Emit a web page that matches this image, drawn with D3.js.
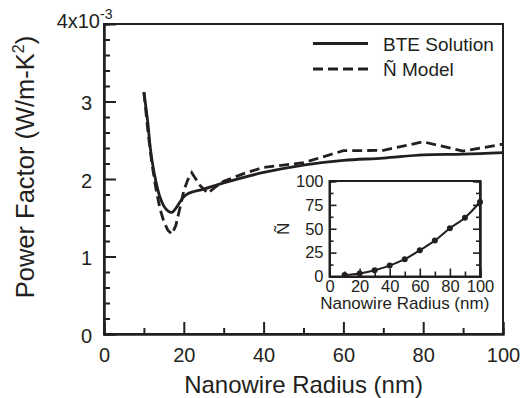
<!DOCTYPE html>
<html>
<head>
<meta charset="utf-8">
<script src="https://cdn.jsdelivr.net/npm/d3@7"></script>
<style>
  body { margin: 0; background: #fff; }
  svg { display: block; font-family: "Liberation Sans", Arial, sans-serif; }
  .axis path, .axis line { stroke: #231f20; }
  .axis text { fill: #231f20; font-family: "Liberation Sans", Arial, sans-serif; }
</style>
</head>
<body>
<div id="chart-area"></div>
<script>
// main plot data (power factor in units of 1e-3 W/m-K^2)
var radiusBTE = [10, 11, 11.5, 12, 13, 14, 15, 16, 17, 18, 19, 20, 21, 22, 25, 30, 40, 50, 60, 70, 80, 90, 100];
var pfBTE = [3.12, 2.72, 2.45, 2.25, 1.97, 1.77, 1.65, 1.59, 1.57, 1.62, 1.70, 1.77, 1.81, 1.83, 1.87, 1.95, 2.085, 2.18, 2.24, 2.27, 2.31, 2.32, 2.34];

var radiusModel = [10, 11, 12, 13, 14, 15, 16, 17, 18, 19, 20, 21, 22, 24, 26, 28, 30, 35, 40, 50, 60, 70, 80, 90, 100];
var pfModel = [3.12, 2.62, 2.2, 1.88, 1.62, 1.45, 1.34, 1.29, 1.4, 1.62, 1.85, 1.99, 2.08, 1.92, 1.815, 1.9, 1.97, 2.07, 2.15, 2.21, 2.365, 2.37, 2.48, 2.36, 2.45];

// inset data
var insetRadius = [10, 20, 30, 40, 50, 60, 70, 80, 90, 100];
var insetN = [1.5, 3.1, 6.6, 11.4, 18.1, 27.5, 37.6, 50.5, 61.6, 78];

var xMajor = [0, 20, 40, 60, 80, 100];
var xMinor = [10, 30, 50, 70, 90];
var yMajor = [0, 1, 2, 3];
var yMinor = [0.2, 0.4, 0.6, 0.8, 1.2, 1.4, 1.6, 1.8, 2.2, 2.4, 2.6, 2.8, 3.2, 3.4, 3.6, 3.8];
var insetYMajor = [0, 25, 50, 75, 100];
var insetYMinor = [12.5, 37.5, 62.5, 87.5];

var ink = "#231f20";
var W = 522, H = 398;

var svg = d3.select("#chart-area")
  .append("svg")
  .attr("width", W)
  .attr("height", H);

var x = d3.scaleLinear().domain([0, 100]).range([104, 503]);
var y = d3.scaleLinear().domain([0, 4]).range([334, 24]);

// frame
svg.append("rect")
  .attr("x", x(0)).attr("y", y(4))
  .attr("width", x(100) - x(0)).attr("height", y(0) - y(4))
  .attr("fill", "none").attr("stroke", ink).attr("stroke-width", 2);

// x axis
var xAxisG = svg.append("g").attr("class", "axis")
  .attr("transform", "translate(0," + y(0) + ")")
  .call(d3.axisBottom(x).tickValues(xMajor).tickSize(-12).tickPadding(14).tickFormat(d3.format("d")));
svg.append("g").attr("class", "axis")
  .attr("transform", "translate(0," + y(0) + ")")
  .call(d3.axisBottom(x).tickValues(xMinor).tickSize(-6).tickFormat(""));

// y axis
var yAxisG = svg.append("g").attr("class", "axis")
  .attr("transform", "translate(" + x(0) + ",0)")
  .call(d3.axisLeft(y).tickValues(yMajor).tickSize(-12).tickPadding(12).tickFormat(d3.format("d")));
svg.append("g").attr("class", "axis")
  .attr("transform", "translate(" + x(0) + ",0)")
  .call(d3.axisLeft(y).tickValues(yMinor).tickSize(-6).tickFormat(""));

svg.selectAll(".axis path").attr("stroke-width", 2);
svg.selectAll(".axis line").attr("stroke-width", 2);
xAxisG.selectAll("text").attr("font-size", 20);
yAxisG.selectAll("text").attr("font-size", 20).attr("dy", "0.42em");

// top tick label 4x10^-3
var topLab = svg.append("text")
  .attr("x", 100).attr("y", y(4) + 4)
  .attr("text-anchor", "start")
  .attr("font-size", 20).attr("fill", ink);
topLab.append("tspan").text("4x10");
topLab.append("tspan").attr("font-size", 14).attr("dy", -9).text("-3");
// right-align "4x10" to x = 100
var tw = topLab.select("tspan").node().getComputedTextLength();
topLab.attr("x", 100 - tw);

// axis titles
svg.append("text")
  .attr("x", (x(0) + x(100)) / 2).attr("y", 393)
  .attr("text-anchor", "middle")
  .attr("font-size", 24).attr("fill", ink)
  .text("Nanowire Radius (nm)");

var yTitle = svg.append("text")
  .attr("transform", "translate(34,167) rotate(-90)")
  .attr("text-anchor", "middle")
  .attr("font-size", 25.5).attr("fill", ink);
yTitle.append("tspan").text("Power Factor (W/m-K");
yTitle.append("tspan").attr("font-size", 16).attr("dy", -10).text("2");
yTitle.append("tspan").attr("dy", 10).text(")");

// curves
var lineBTE = d3.line()
  .x(function(d, i) { return x(radiusBTE[i]); })
  .y(function(d) { return y(d); })
  .curve(d3.curveCatmullRom);

var lineModel = d3.line()
  .x(function(d, i) { return x(radiusModel[i]); })
  .y(function(d) { return y(d); });

svg.append("path")
  .attr("d", lineBTE(pfBTE))
  .attr("fill", "none").attr("stroke", ink).attr("stroke-width", 2.8);

svg.append("path")
  .attr("d", lineModel(pfModel))
  .attr("fill", "none").attr("stroke", ink).attr("stroke-width", 2.8)
  .attr("stroke-dasharray", "10,5");

// legend
var legendItems = [
  { label: "BTE Solution", dash: null },
  { label: "\u00d1 Model", dash: "10,5" }
];
var legend = svg.selectAll(".legend")
  .data(legendItems)
  .enter()
  .append("g")
  .attr("class", "legend")
  .attr("transform", function(d, i) { return "translate(313," + (43.5 + i * 25.5) + ")"; });

legend.append("line")
  .attr("x1", 0).attr("x2", 55)
  .attr("stroke", ink).attr("stroke-width", 2.8)
  .attr("stroke-dasharray", function(d) { return d.dash; });

legend.append("text")
  .attr("x", 70).attr("y", 7)
  .attr("font-size", 19).attr("fill", ink)
  .text(function(d) { return d.label; });

// inset
var xi = d3.scaleLinear().domain([0, 100]).range([329.5, 480]);
var yi = d3.scaleLinear().domain([0, 100]).range([276.5, 181]);

svg.append("rect")
  .attr("x", xi(0)).attr("y", yi(100))
  .attr("width", xi(100) - xi(0)).attr("height", yi(0) - yi(100))
  .attr("fill", "#fff").attr("stroke", ink).attr("stroke-width", 2);

var xiAxis = svg.append("g").attr("class", "axis inset")
  .attr("transform", "translate(0," + yi(0) + ")")
  .call(d3.axisBottom(xi).tickValues([0, 20, 40, 60, 80, 100]).tickSize(-8).tickPadding(4).tickFormat(d3.format("d")));
svg.append("g").attr("class", "axis inset")
  .attr("transform", "translate(0," + yi(0) + ")")
  .call(d3.axisBottom(xi).tickValues(xMinor).tickSize(-5).tickFormat(""));

var yiAxis = svg.append("g").attr("class", "axis inset")
  .attr("transform", "translate(" + xi(0) + ",0)")
  .call(d3.axisLeft(yi).tickValues(insetYMajor).tickSize(-7).tickPadding(6).tickFormat(d3.format("d")));
svg.append("g").attr("class", "axis inset")
  .attr("transform", "translate(" + xi(0) + ",0)")
  .call(d3.axisLeft(yi).tickValues(insetYMinor).tickSize(-4).tickFormat(""));
svg.append("g").attr("class", "axis inset")
  .attr("transform", "translate(" + xi(100) + ",0)")
  .call(d3.axisRight(yi).tickValues(insetYMajor).tickSize(-7).tickFormat(""));
svg.append("g").attr("class", "axis inset")
  .attr("transform", "translate(" + xi(100) + ",0)")
  .call(d3.axisRight(yi).tickValues(insetYMinor).tickSize(-4).tickFormat(""));

svg.selectAll(".inset path").attr("stroke-width", 2);
svg.selectAll(".inset line").attr("stroke-width", 1.6);
xiAxis.selectAll("text").attr("font-size", 16.5);
yiAxis.selectAll("text").attr("font-size", 16.5);

svg.append("text")
  .attr("x", (xi(0) + xi(100)) / 2).attr("y", 309)
  .attr("text-anchor", "middle")
  .attr("font-size", 17).attr("fill", ink)
  .text("Nanowire Radius (nm)");

svg.append("text")
  .attr("transform", "translate(289," + ((yi(0) + yi(100)) / 2) + ") rotate(-90)")
  .attr("text-anchor", "middle")
  .attr("font-size", 17).attr("fill", ink)
  .text("\u00d1");

var lineInset = d3.line()
  .x(function(d, i) { return xi(insetRadius[i]); })
  .y(function(d) { return yi(d); })
  .curve(d3.curveCatmullRom);

svg.append("path")
  .attr("d", lineInset(insetN))
  .attr("fill", "none").attr("stroke", ink).attr("stroke-width", 2);

svg.selectAll(".dot")
  .data(insetN)
  .enter()
  .append("circle")
  .attr("class", "dot")
  .attr("cx", function(d, i) { return xi(insetRadius[i]); })
  .attr("cy", function(d) { return yi(d); })
  .attr("r", 3)
  .attr("fill", ink);
</script>
</body>
</html>
